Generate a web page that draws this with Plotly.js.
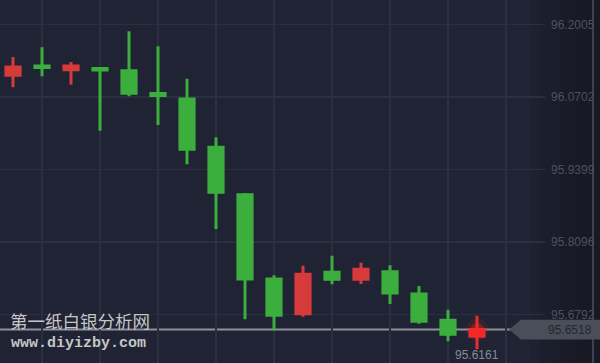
<!DOCTYPE html>
<html>
<head>
<meta charset="utf-8">
<script src="https://cdn.plot.ly/plotly-3.0.1.min.js"></script>
<style>
  html, body { margin: 0; padding: 0; background: #1f2333; }
  #chart { width: 600px; height: 363px; }
</style>
</head>
<body>
<div id="chart"></div>
<script>
// Silver price bars, oldest to newest
const slots = [0, 1, 2, 3, 4, 5, 6, 7, 8, 9, 10, 11, 12, 13, 14, 15, 16];
const openP  = [96.1094, 96.1262, 96.1195, 96.1216, 96.1177, 96.0767, 96.0668, 95.9798, 95.8945, 95.7428, 95.6803, 95.7548, 95.7422, 95.7559, 95.7158, 95.6684, 95.6396];
const highP  = [96.1424, 96.1598, 96.1333, 96.1238, 96.1886, 96.1616, 96.1033, 95.9978, 95.8976, 95.7494, 95.7667, 95.7847, 95.7721, 95.7674, 95.7302, 95.6875, 95.6767];
const lowP   = [96.0878, 96.1076, 96.0925, 96.0097, 96.0716, 96.0200, 95.9492, 95.8328, 95.6702, 95.6497, 95.6749, 95.7332, 95.7338, 95.6977, 95.6623, 95.6306, 95.6161];
const closeP = [96.1244, 96.1235, 96.1262, 96.1189, 96.0770, 96.0731, 95.9762, 95.8988, 95.7428, 95.6774, 95.7512, 95.7422, 95.7602, 95.7176, 95.6666, 95.6432, 95.6518];

// Price scale labels
const scaleVals = [96.2005, 96.0702, 95.9399, 95.8096, 95.6792];
const scaleText = ['96.2005', '96.0702', '95.9399', '95.8096', '95.6792'];

const lastPrice = 95.6518;
const lowLabel = '95.6161';
const siteName = '第一纸白银分析网';
const siteUrl = 'www.diyizby.com';

const UP = '#d63a3a', DOWN = '#3cae3e', LIVE = '#ee2a2a';
const n = slots.length;
const head = (a) => a.slice(0, n - 1);
const tail = (a) => a.slice(n - 1);

const candleStyle = (up, down) => ({
  increasing: { line: { color: up, width: 3 }, fillcolor: up },
  decreasing: { line: { color: down, width: 3 }, fillcolor: down },
  whiskerwidth: 0,
  hoverinfo: 'skip',
  showlegend: false
});

const traces = [
  Object.assign({
    type: 'candlestick',
    x: head(slots), open: head(openP), high: head(highP), low: head(lowP), close: head(closeP)
  }, candleStyle(UP, DOWN)),
  // glow around the live price
  {
    type: 'scatter', mode: 'markers', x: tail(slots), y: [lastPrice],
    marker: { size: 22, color: 'rgba(255,40,40,0.12)', line: { width: 0 } },
    hoverinfo: 'skip', showlegend: false, cliponaxis: false
  },
  {
    type: 'scatter', mode: 'markers', x: tail(slots), y: [lastPrice],
    marker: { size: 13, color: 'rgba(255,40,40,0.35)', line: { width: 0 } },
    hoverinfo: 'skip', showlegend: false, cliponaxis: false
  },
  Object.assign({
    type: 'candlestick',
    x: tail(slots), open: tail(openP), high: tail(highP), low: tail(lowP), close: tail(closeP)
  }, candleStyle(LIVE, DOWN))
];

// widths in px converted to paper fractions of the 545px plot
const PW = 545;
const px = (v) => v / PW;
const tagH = 0.0178;

const shapes = [];
// darkening toward the right edge
for (let i = 0; i < 6; i++) {
  shapes.push({
    type: 'rect', xref: 'paper', yref: 'paper', layer: 'below',
    x0: px(530 + i * 10), x1: px(600), y0: 0, y1: 1,
    fillcolor: 'rgba(10,12,20,0.07)', line: { width: 0 }
  });
}
// right border
shapes.push({
  type: 'line', xref: 'paper', yref: 'paper', x0: px(593), x1: px(593), y0: 0, y1: 1,
  line: { color: '#4a4f5c', width: 1.5 }
});
// last price line
shapes.push({
  type: 'line', xref: 'paper', yref: 'y', layer: 'below',
  x0: 0, x1: px(512), y0: lastPrice, y1: lastPrice,
  line: { color: '#8e9199', width: 2 }
});
// last price tag
shapes.push({
  type: 'path', xref: 'paper', yref: 'y', layer: 'above',
  path: `M ${px(509)},${lastPrice} L ${px(521)},${lastPrice + tagH} L ${px(600)},${lastPrice + tagH} ` +
        `L ${px(600)},${lastPrice - tagH} L ${px(521)},${lastPrice - tagH} Z`,
  fillcolor: '#4a4e59', line: { width: 0 }
});

const annotations = [
  {
    xref: 'paper', yref: 'y', x: px(594), y: lastPrice, xanchor: 'right', yanchor: 'middle',
    text: lastPrice.toFixed(4), showarrow: false,
    font: { family: 'Liberation Sans, Arial, sans-serif', size: 12, color: '#23262f' }
  },
  {
    xref: 'x', yref: 'paper', x: slots[n - 1], y: 0, xanchor: 'center', yanchor: 'bottom', yshift: -1,
    text: lowLabel, showarrow: false,
    font: { family: 'Liberation Sans, Arial, sans-serif', size: 12, color: '#878b95' }
  },
  {
    xref: 'paper', yref: 'paper', x: px(8), y: 1 - 320 / 363, xanchor: 'left', yanchor: 'middle',
    text: siteName, showarrow: false,
    font: { family: 'Noto Sans CJK SC, sans-serif', size: 17.5, color: '#c6c6c6' }
  },
  {
    xref: 'paper', yref: 'paper', x: px(9), y: 1 - 343 / 363, xanchor: 'left', yanchor: 'middle',
    text: '<b>' + siteUrl + '</b>', showarrow: false,
    font: { family: 'Liberation Mono, Courier New, monospace', size: 15, color: '#c6c6c6' }
  }
];

const layout = {
  width: 600, height: 363,
  margin: { l: 0, r: 55, t: 0, b: 0, pad: 0 },
  paper_bgcolor: '#1f2333',
  plot_bgcolor: 'rgba(0,0,0,0)',
  showlegend: false,
  dragmode: false,
  xaxis: {
    range: [-13 / 29, 532 / 29],
    tickvals: [1, 3, 5, 7, 9, 11, 13, 15, 17],
    showticklabels: false, ticks: '',
    showgrid: true, gridcolor: '#2b3040', gridwidth: 1.5,
    zeroline: false, showline: false,
    rangeslider: { visible: false }, fixedrange: true
  },
  yaxis: {
    side: 'right',
    range: [96.24496 - 0.0018 * 363, 96.24496],
    tickvals: scaleVals, ticktext: scaleText,
    ticks: '', ticklabelstandoff: 5,
    tickfont: { family: 'Liberation Sans, Arial, sans-serif', size: 12, color: '#4c5161' },
    showgrid: true, gridcolor: '#2b3040', gridwidth: 1.5,
    zeroline: false, showline: false, fixedrange: true
  },
  shapes: shapes,
  annotations: annotations
};

Plotly.newPlot('chart', traces, layout, { displayModeBar: false, staticPlot: true });
</script>
</body>
</html>
